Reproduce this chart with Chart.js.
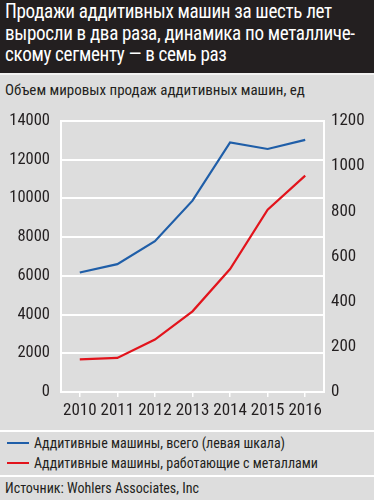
<!DOCTYPE html>
<html><head><meta charset="utf-8">
<script src="https://cdn.jsdelivr.net/npm/chart.js@4"></script>
<style>
html,body{margin:0;padding:0;}
body{width:374px;height:500px;background:#dddddd;position:relative;overflow:hidden;font-family:"Roboto Condensed",sans-serif;color:#231f20;}
#title{position:absolute;left:0;top:0;width:374px;height:73px;background:#231f20;color:#fff;}
#title div{position:absolute;left:5px;top:1px;font-size:20px;line-height:21.5px;white-space:nowrap;letter-spacing:-0.35px;transform:scaleX(0.955);transform-origin:0 0;}
#tline{position:absolute;left:0;top:73px;width:374px;height:2px;background:#f2f2f2;}
#sub{position:absolute;left:5px;top:81px;font-size:15px;white-space:nowrap;}
#wrap{position:absolute;left:0;top:100px;width:374px;height:325px;}
.sep{position:absolute;left:0;width:374px;height:2px;background:#fff;}
.leg{position:absolute;left:7px;font-size:14px;white-space:nowrap;}
.leg i{display:inline-block;width:22px;height:2px;vertical-align:middle;margin-right:5px;position:relative;top:-1px;}
#src{position:absolute;left:5px;top:480px;font-size:14px;white-space:nowrap;}
</style></head>
<body>
<div id="title"><div>Продажи аддитивных машин за шесть лет<br>выросли в два раза, динамика по металличе-<br>скому сегменту — в семь раз</div></div>
<div id="tline"></div>
<div id="sub">Объем мировых продаж аддитивных машин, ед</div>
<div id="wrap"><canvas id="c" width="374" height="325"></canvas></div>
<div class="sep" style="top:430px"></div>
<div class="leg" id="l1" style="top:435px"></div>
<div class="leg" id="l2" style="top:455px"></div>
<div class="sep" style="top:475px"></div>
<div id="src">Источник: Wohlers Associates, Inc</div>
<script>
const years = ["2010","2011","2012","2013","2014","2015","2016"];
const totalMachines = [6170, 6600, 7790, 9880, 12890, 12550, 13020];
const metalMachines = [144, 151, 232, 357, 544, 807, 958];
const seriesNames = ["Аддитивные машины, всего (левая шкала)", "Аддитивные машины, работающие с металлами"];
const seriesColors = ["#1f5ea8", "#e2141c"];
const leftTicks = [0, 14000, 2000];
const rightTicks = [0, 1200, 200];

document.getElementById('l1').innerHTML = '<i style="background:'+seriesColors[0]+'"></i>'+seriesNames[0];
document.getElementById('l2').innerHTML = '<i style="background:'+seriesColors[1]+'"></i>'+seriesNames[1];

const FONT = "'Roboto Condensed',sans-serif";
new Chart(document.getElementById('c'), {
  type: 'line',
  data: {
    labels: years,
    datasets: [
      {label: seriesNames[0], data: totalMachines, yAxisID: 'y', borderColor: seriesColors[0], borderWidth: 2.2, pointRadius: 0, tension: 0, fill: false},
      {label: seriesNames[1], data: metalMachines, yAxisID: 'y1', borderColor: seriesColors[1], borderWidth: 2.2, pointRadius: 0, tension: 0, fill: false}
    ]
  },
  options: {
    responsive: false, animation: false,
    layout: {padding: {top: 20, left: 0, right: 0, bottom: 0}},
    plugins: {legend: {display: false}, tooltip: {enabled: false}},
    scales: {
      x: {
        offset: true,
        grid: {display: true, drawOnChartArea: false, color: '#ffffff', tickLength: 5, lineWidth: 1.5},
        border: {display: true, color: '#ffffff', width: 2},
        ticks: {color: '#231f20', font: {family: FONT, size: 17}, padding: 4, maxRotation: 0, autoSkip: false},
        afterFit: s => { s.height = 33; }
      },
      y: {
        position: 'left', min: leftTicks[0], max: leftTicks[1],
        ticks: {stepSize: leftTicks[2], color: '#231f20', font: {family: FONT, size: 16.5}, padding: 11, callback: v => String(v)},
        grid: {color: '#ffffff', lineWidth: 2, drawTicks: false},
        border: {display: true, color: '#ffffff', width: 2},
        afterFit: s => { s.width = 61; }
      },
      y1: {
        position: 'right', min: rightTicks[0], max: rightTicks[1],
        ticks: {stepSize: rightTicks[2], color: '#231f20', font: {family: FONT, size: 17}, padding: 7, callback: v => String(v)},
        grid: {drawOnChartArea: false, drawTicks: false},
        border: {display: true, color: '#ffffff', width: 2},
        afterFit: s => { s.width = 50; }
      }
    }
  }
});
</script>
</body></html>
